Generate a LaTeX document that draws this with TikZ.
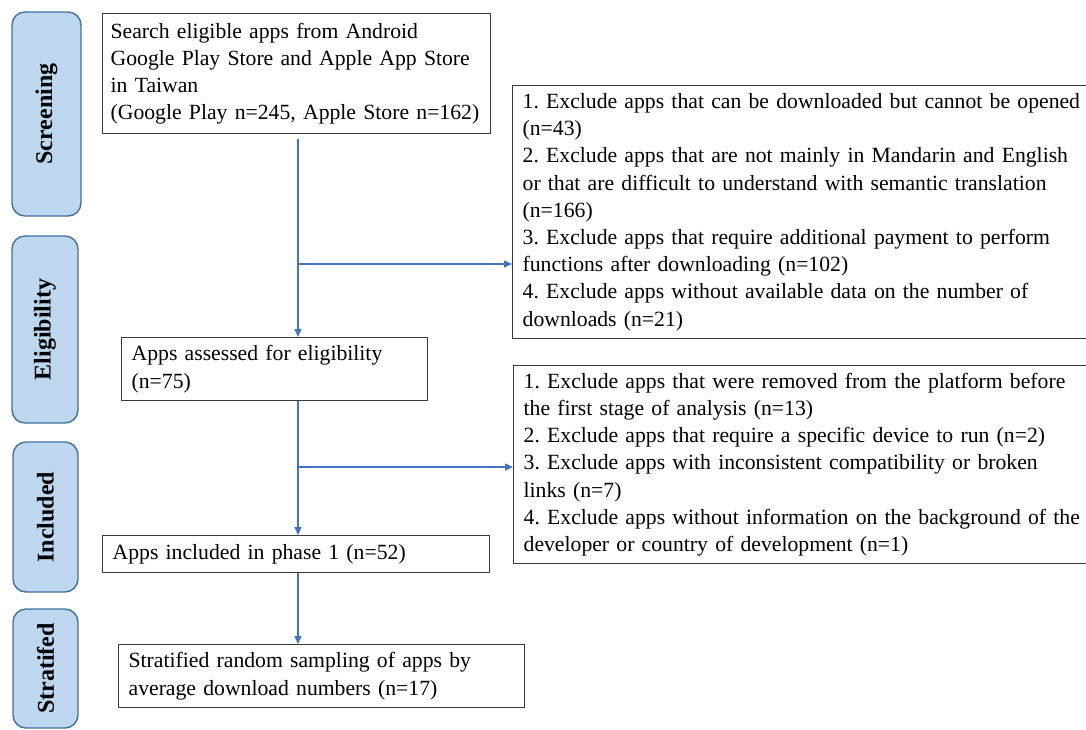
\documentclass[tikz,border=0pt]{standalone}
\usepackage{fontspec}
\setmainfont{Liberation Serif}
\frenchspacing
\usetikzlibrary{arrows.meta}
\definecolor{flow}{HTML}{4472C4}
\definecolor{barfill}{HTML}{BDD7EE}
\definecolor{barline}{HTML}{41719C}
\definecolor{boxline}{HTML}{3A3A3A}
\tikzset{
  box/.style={draw=boxline, line width=1.3pt, rectangle, anchor=north west,
    inner xsep=10pt, inner ysep=0pt, align=left,
    font=\fontsize{21.7}{27.2}\selectfont},
  phase/.style={draw=barline, fill=barfill, line width=1.4pt, rounded corners=13pt,
    rotate=90, anchor=center, inner sep=0pt,
    font=\fontsize{24}{28}\selectfont\bfseries},
  arr/.style={draw=flow, line width=1.5pt, -{Triangle[length=8pt,width=7pt]}},
}
\begin{document}
\begin{tikzpicture}[x=1pt,y=-1pt]
\useasboundingbox (0,0) rectangle (1086,729);
\clip (0,0) rectangle (1086,729);

% phase bars
\node[phase, minimum width=204pt, minimum height=69pt] (s1) at (46.5,114) {Screening};
\node[phase, minimum width=187pt, minimum height=66pt] (s2) at (45,329.5) {Eligibility};
\node[phase, minimum width=150pt, minimum height=65pt] (s3) at (45.5,517) {Included};
\node[phase, minimum width=119pt, minimum height=65pt] (s4) at (45.5,668.5) {Stratifed};

% main boxes
\node[box, inner xsep=8pt, text width=372pt, minimum height=120pt] (a) at (102,13)
  {Search eligible apps from Android\\Google Play Store and Apple App Store\\in Taiwan\\(Google Play n=245, Apple Store n=162)};
\node[box, text width=286pt, minimum height=63pt] (e) at (121,337)
  {Apps assessed for eligibility\\(n=75)};
\node[box, text width=367pt, minimum height=37pt] (i) at (102,535)
  {Apps included in phase 1 (n=52)};
\node[box, text width=386pt, minimum height=63pt] (s) at (118,644)
  {Stratified random sampling of apps by\\average download numbers (n=17)};

% exclusion boxes
\node[box, text width=600pt, minimum height=253pt] (x1) at (512,85)
  {1. Exclude apps that can be downloaded but cannot be opened\\(n=43)\\2. Exclude apps that are not mainly in Mandarin and English\\or that are difficult to understand with semantic translation\\(n=166)\\3. Exclude apps that require additional payment to perform\\functions after downloading (n=102)\\4. Exclude apps without available data on the number of\\downloads (n=21)};
\node[box, text width=600pt, minimum height=198pt] (x2) at (513,365)
  {1. Exclude apps that were removed from the platform before\\the first stage of analysis (n=13)\\2. Exclude apps that require a specific device to run (n=2)\\3. Exclude apps with inconsistent compatibility or broken\\links (n=7)\\4. Exclude apps without information on the background of the\\developer or country of development (n=1)};

% connectors
\coordinate (j1) at (298,264);
\coordinate (j2) at (298,467);
\draw[arr, shorten <=5pt] (a.south -| j1) -- (e.north -| j1);
\draw[arr] (j1) -- (j1 -| x1.west);
\draw[arr] (e.south -| j2) -- (i.north -| j2);
\draw[arr] (j2) -- (j2 -| x2.west);
\draw[arr] (i.south -| j2) -- (s.north -| j2);
\end{tikzpicture}
\end{document}
